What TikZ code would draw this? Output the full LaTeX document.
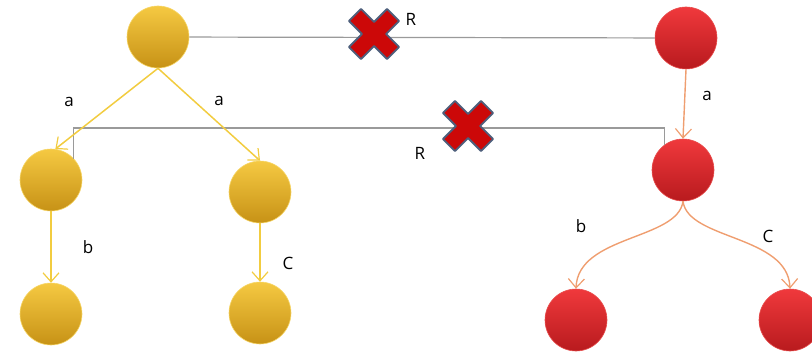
\documentclass[tikz,border=0pt]{standalone}
\usepackage{fontspec}
\setmainfont{Open Sans}
\usetikzlibrary{arrows.meta}
\definecolor{ytop}{HTML}{F5C942}
\definecolor{ybot}{HTML}{C79216}
\definecolor{yedge}{HTML}{F7D76A}
\definecolor{rtop}{HTML}{F0393C}
\definecolor{rbot}{HTML}{B81A1E}
\definecolor{redge}{HTML}{E8504F}
\definecolor{yline}{HTML}{F2CC40}
\definecolor{oline}{HTML}{EF9E70}
\definecolor{gline}{HTML}{9A9A9A}
\definecolor{xfill}{HTML}{CC0808}
\definecolor{xedge}{HTML}{4E5F7C}
\tikzset{
  ystate/.style={circle, minimum size=62pt, inner sep=0pt, top color=ytop, bottom color=ybot, draw=yedge, line width=0.6pt},
  rstate/.style={circle, minimum size=62pt, inner sep=0pt, top color=rtop, bottom color=rbot, draw=redge, line width=0.6pt},
  vtip/.tip={Straight Barb[length=9pt, width=16pt, line width=1.2pt]},
  yedgearrow/.style={draw=yline, line width=1.5pt, -vtip},
  oedgearrow/.style={draw=oline, line width=1.4pt, -vtip},
  relline/.style={draw=gline, line width=1.2pt},
  lbl/.style={font=\fontsize{17}{19}\selectfont, text=black, inner sep=0pt},
  cross/.pic={
    \filldraw[fill=xfill, draw=xedge, line width=1.8pt, line join=round, rotate=45]
      (8.5,27) -- (8.5,8.5) -- (27,8.5) -- (27,-8.5) -- (8.5,-8.5) -- (8.5,-27)
      -- (-8.5,-27) -- (-8.5,-8.5) -- (-27,-8.5) -- (-27,8.5) -- (-8.5,8.5) -- (-8.5,27) -- cycle;
  }
}
\begin{document}
\begin{tikzpicture}[x=1pt, y=-1pt]
\useasboundingbox (0,0) rectangle (812,353);

% yellow tree
\node[ystate] (y0) at (158,37) {};
\node[ystate] (y1) at (51,180) {};
\node[ystate] (y2) at (260,192) {};
\node[ystate] (y3) at (51,314) {};
\node[ystate] (y4) at (260,313) {};

% red tree
\node[rstate] (r0) at (686,38) {};
\node[rstate] (r1) at (683,170) {};
\node[rstate] (r2) at (576,320) {};
\node[rstate] (r3) at (790,320) {};

% relation lines that are crossed out
\coordinate (hbar) at (0,128);
\draw[relline] (y0) -- (r0);
\draw[relline] (y1.43) -- (y1.43 |- hbar) -- (r1.126 |- hbar) -- (r1.126);
\pic at (374,34) {cross};
\pic at (468,126) {cross};
\node[lbl] (rtop) at (411,19) {R};
\node[lbl] (rmid) at (420,153) {R};

% yellow transitions
\draw[yedgearrow] (y0.south) -- (y1.82);
\draw[yedgearrow] (y0.south) -- (y2.north);
\draw[yedgearrow] (y1.south) -- (y3.north);
\draw[yedgearrow] (y2.south) -- (y4.north);
\node[lbl] (ya1) at (69,102) {a};
\node[lbl] (ya2) at (219,101) {a};
\node[lbl] (yb) at (88,247) {b};
\node[lbl] (yc) at (288,263) {C};

% red transitions
\draw[oedgearrow] (r0.south) -- (r1.north);
\draw[oedgearrow] (r1.south) .. controls (678,240) and (578,235) .. (r2.north);
\draw[oedgearrow] (r1.south) .. controls (688,240) and (788,235) .. (r3.north);
\node[lbl] (ra) at (707,96) {a};
\node[lbl] (rb) at (581,226) {b};
\node[lbl] (rc) at (768,236) {C};
\end{tikzpicture}
\end{document}
